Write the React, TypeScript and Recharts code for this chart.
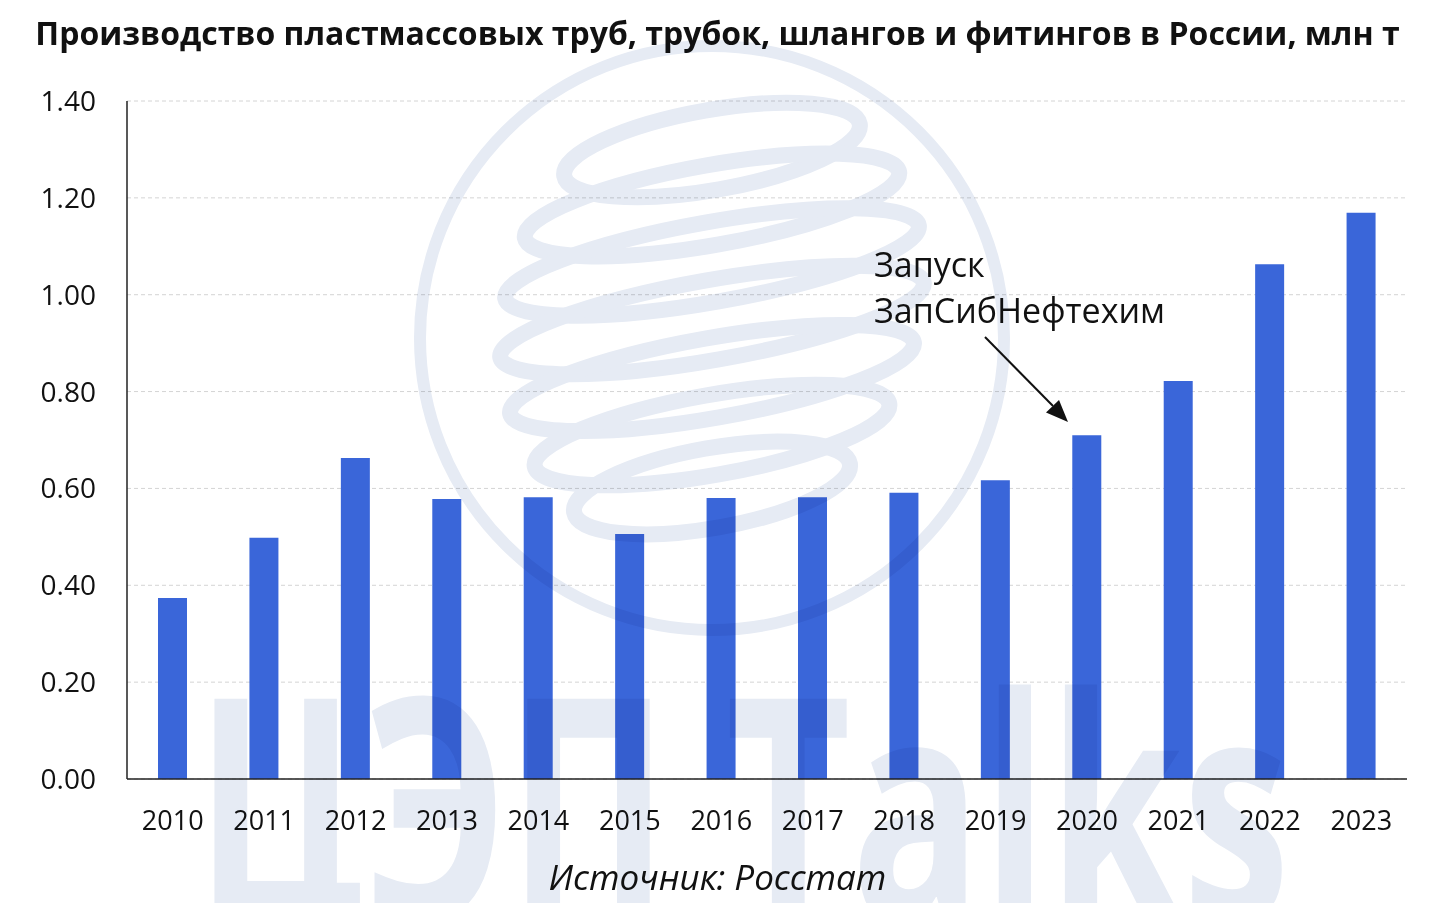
import { Bar, BarChart, CartesianGrid, XAxis, YAxis } from "recharts";

const years = ["2010", "2011", "2012", "2013", "2014", "2015", "2016", "2017", "2018", "2019", "2020", "2021", "2022", "2023"];
const output = [0.374, 0.498, 0.663, 0.578, 0.582, 0.506, 0.58, 0.582, 0.591, 0.617, 0.71, 0.822, 1.063, 1.169];
const yTicks = [0, 0.2, 0.4, 0.6, 0.8, 1.0, 1.2, 1.4];

const data = years.map((y, i) => ({ year: y, v: output[i] }));

const FONT = "'Open Sans', 'Noto Sans', sans-serif";
const WM = "#E6EBF4";

// globe swirl loops for the background watermark
const loops = [
  { cy: 150, rx: 150 },
  { cy: 205, rx: 190 },
  { cy: 262, rx: 210 },
  { cy: 320, rx: 215 },
  { cy: 378, rx: 205 },
  { cy: 435, rx: 180 },
  { cy: 488, rx: 140 },
];

function Watermark() {
  return (
    <svg
      width={1435}
      height={903}
      style={{ position: "absolute", left: 0, top: 0, pointerEvents: "none", mixBlendMode: "multiply" }}
    >
      <circle cx={712} cy={338} r={292} fill="none" stroke={WM} strokeWidth={12} />
      {loops.map((l) => (
        <ellipse
          key={l.cy}
          cx={712}
          cy={l.cy}
          rx={l.rx}
          ry={40}
          fill="none"
          stroke={WM}
          strokeWidth={16}
          transform={`rotate(-10 712 ${l.cy})`}
        />
      ))}
      <text
        x={195}
        y={920}
        fontFamily={FONT}
        fontWeight={700}
        fontSize={310}
        fill={WM}
        textLength={1095}
        lengthAdjust="spacingAndGlyphs"
      >
        ЦЭП Talks
      </text>
    </svg>
  );
}

function Annotation() {
  return (
    <svg width={1435} height={903} style={{ position: "absolute", left: 0, top: 0, pointerEvents: "none" }}>
      <text x={874} y={277} fontFamily={FONT} fontSize={34} fill="#111">
        Запуск
      </text>
      <text x={874} y={323} fontFamily={FONT} fontSize={34} fill="#111">
        ЗапСибНефтехим
      </text>
      <line x1={985} y1={337} x2={1053} y2={406} stroke="#111" strokeWidth={2} />
      <polygon points="1068,422 1046,412.5 1059,400" fill="#111" />
    </svg>
  );
}

export default function App() {
  return (
    <div style={{ position: "absolute", left: 0, top: 0, width: 1435, height: 903, background: "#fff", fontFamily: FONT }}>
      <div
        style={{
          position: "absolute",
          left: 0,
          top: 11,
          width: 1435,
          textAlign: "center",
          fontSize: 32,
          fontWeight: 700,
          color: "#111",
          lineHeight: "44px",
          whiteSpace: "nowrap",
        }}
      >
        Производство пластмассовых труб, трубок, шлангов и фитингов в России, млн т
      </div>
      <BarChart
        width={1435}
        height={903}
        data={data}
        margin={{ top: 101, right: 28, bottom: 64, left: 0 }}
        style={{ position: "absolute", left: 0, top: 0 }}
      >
        <CartesianGrid vertical={false} stroke="#D4D4D4" strokeDasharray="4 3" />
        <XAxis
          dataKey="year"
          height={60}
          tickLine={false}
          tickSize={0}
          tickMargin={32}
          axisLine={{ stroke: "#222", strokeWidth: 1.5 }}
          tick={{ fontSize: 27, fill: "#111", fontFamily: FONT }}
          interval={0}
        />
        <YAxis
          width={127}
          domain={[0, 1.4]}
          ticks={yTicks}
          tickFormatter={(v: number) => v.toFixed(2)}
          tickLine={false}
          tickSize={0}
          tickMargin={31}
          axisLine={{ stroke: "#222", strokeWidth: 1.5 }}
          tick={{ fontSize: 28, fill: "#111", fontFamily: FONT }}
        />
        <Bar dataKey="v" fill="#3A66D9" barSize={29} isAnimationActive={false} />
      </BarChart>
      <Watermark />
      <Annotation />
      <div
        style={{
          position: "absolute",
          left: 0,
          top: 854,
          width: 1435,
          textAlign: "center",
          fontSize: 35,
          fontStyle: "italic",
          color: "#111",
          lineHeight: "46px",
        }}
      >
        Источник: Росстат
      </div>
    </div>
  );
}
